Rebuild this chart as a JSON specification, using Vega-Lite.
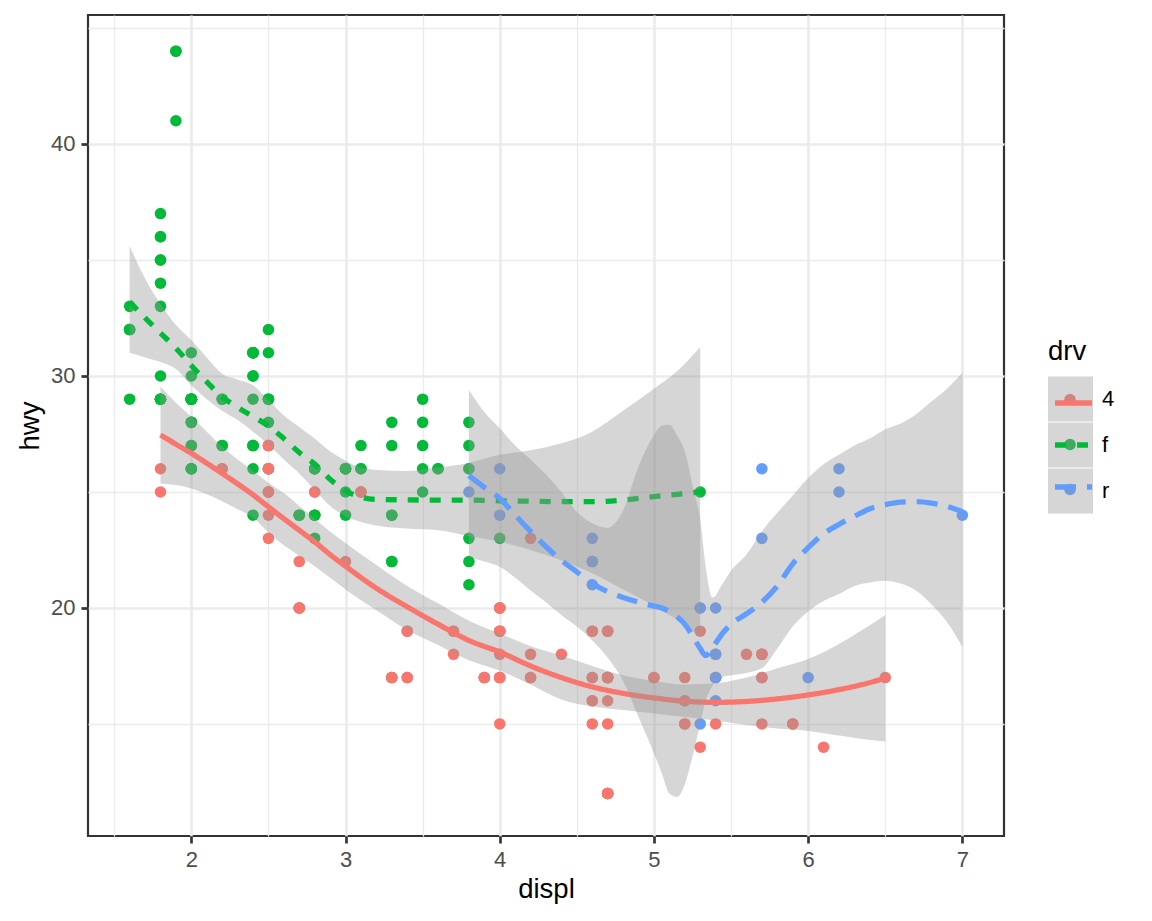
{
  "$schema": "https://vega.github.io/schema/vega-lite/v6.json",
  "width": 916,
  "height": 821,
  "autosize": {"type": "none"},
  "padding": {"left": 88, "top": 15, "right": 148, "bottom": 85},
  "background": "white",
  "config": {
    "font": "Liberation Sans",
    "view": {"stroke": "#333333", "strokeWidth": 2.2}
  },
  "datasets": {
    "mpg": [
      {"displ":1.8,"hwy":29,"drv":"f"},{"displ":1.8,"hwy":29,"drv":"f"},{"displ":2.0,"hwy":31,"drv":"f"},{"displ":2.0,"hwy":30,"drv":"f"},{"displ":2.8,"hwy":26,"drv":"f"},{"displ":2.8,"hwy":26,"drv":"f"},{"displ":3.1,"hwy":27,"drv":"f"},
      {"displ":1.8,"hwy":26,"drv":"4"},{"displ":1.8,"hwy":25,"drv":"4"},{"displ":2.0,"hwy":28,"drv":"4"},{"displ":2.0,"hwy":27,"drv":"4"},{"displ":2.8,"hwy":25,"drv":"4"},{"displ":2.8,"hwy":25,"drv":"4"},{"displ":3.1,"hwy":25,"drv":"4"},{"displ":3.1,"hwy":25,"drv":"4"},{"displ":2.8,"hwy":24,"drv":"4"},{"displ":3.1,"hwy":25,"drv":"4"},{"displ":4.2,"hwy":23,"drv":"4"},
      {"displ":5.3,"hwy":20,"drv":"r"},{"displ":5.3,"hwy":15,"drv":"r"},{"displ":5.3,"hwy":20,"drv":"r"},{"displ":5.7,"hwy":17,"drv":"r"},{"displ":6.0,"hwy":17,"drv":"r"},{"displ":5.7,"hwy":26,"drv":"r"},{"displ":5.7,"hwy":23,"drv":"r"},{"displ":6.2,"hwy":26,"drv":"r"},{"displ":6.2,"hwy":25,"drv":"r"},{"displ":7.0,"hwy":24,"drv":"r"},
      {"displ":5.3,"hwy":19,"drv":"4"},{"displ":5.3,"hwy":14,"drv":"4"},{"displ":5.7,"hwy":15,"drv":"4"},{"displ":6.5,"hwy":17,"drv":"4"},
      {"displ":2.4,"hwy":27,"drv":"f"},{"displ":2.4,"hwy":30,"drv":"f"},{"displ":3.1,"hwy":26,"drv":"f"},{"displ":3.5,"hwy":29,"drv":"f"},{"displ":3.6,"hwy":26,"drv":"f"},
      {"displ":2.4,"hwy":24,"drv":"f"},{"displ":3.0,"hwy":24,"drv":"f"},{"displ":3.3,"hwy":22,"drv":"f"},{"displ":3.3,"hwy":22,"drv":"f"},{"displ":3.3,"hwy":24,"drv":"f"},{"displ":3.3,"hwy":24,"drv":"f"},{"displ":3.3,"hwy":17,"drv":"f"},{"displ":3.8,"hwy":22,"drv":"f"},{"displ":3.8,"hwy":21,"drv":"f"},{"displ":3.8,"hwy":23,"drv":"f"},{"displ":4.0,"hwy":23,"drv":"f"},
      {"displ":3.7,"hwy":19,"drv":"4"},{"displ":3.7,"hwy":18,"drv":"4"},{"displ":3.9,"hwy":17,"drv":"4"},{"displ":3.9,"hwy":17,"drv":"4"},{"displ":4.7,"hwy":19,"drv":"4"},{"displ":4.7,"hwy":19,"drv":"4"},{"displ":4.7,"hwy":12,"drv":"4"},{"displ":5.2,"hwy":17,"drv":"4"},{"displ":5.2,"hwy":15,"drv":"4"},
      {"displ":3.9,"hwy":17,"drv":"4"},{"displ":4.7,"hwy":17,"drv":"4"},{"displ":4.7,"hwy":12,"drv":"4"},{"displ":4.7,"hwy":17,"drv":"4"},{"displ":5.2,"hwy":16,"drv":"4"},{"displ":5.7,"hwy":18,"drv":"4"},{"displ":5.9,"hwy":15,"drv":"4"},
      {"displ":4.7,"hwy":16,"drv":"4"},{"displ":4.7,"hwy":12,"drv":"4"},{"displ":4.7,"hwy":17,"drv":"4"},{"displ":4.7,"hwy":17,"drv":"4"},{"displ":4.7,"hwy":12,"drv":"4"},{"displ":5.2,"hwy":15,"drv":"4"},{"displ":5.2,"hwy":16,"drv":"4"},{"displ":5.7,"hwy":17,"drv":"4"},{"displ":5.9,"hwy":15,"drv":"4"},
      {"displ":4.6,"hwy":17,"drv":"r"},{"displ":5.4,"hwy":17,"drv":"r"},{"displ":5.4,"hwy":18,"drv":"r"},
      {"displ":4.0,"hwy":17,"drv":"4"},{"displ":4.0,"hwy":19,"drv":"4"},{"displ":4.0,"hwy":17,"drv":"4"},{"displ":4.0,"hwy":19,"drv":"4"},{"displ":4.6,"hwy":19,"drv":"4"},{"displ":5.0,"hwy":17,"drv":"4"},
      {"displ":4.2,"hwy":17,"drv":"4"},{"displ":4.2,"hwy":17,"drv":"4"},{"displ":4.6,"hwy":16,"drv":"4"},{"displ":4.6,"hwy":16,"drv":"4"},{"displ":4.6,"hwy":17,"drv":"4"},{"displ":5.4,"hwy":15,"drv":"4"},{"displ":5.4,"hwy":17,"drv":"4"},
      {"displ":3.8,"hwy":26,"drv":"r"},{"displ":3.8,"hwy":25,"drv":"r"},{"displ":4.0,"hwy":26,"drv":"r"},{"displ":4.0,"hwy":24,"drv":"r"},{"displ":4.6,"hwy":21,"drv":"r"},{"displ":4.6,"hwy":22,"drv":"r"},{"displ":4.6,"hwy":23,"drv":"r"},{"displ":4.6,"hwy":22,"drv":"r"},{"displ":5.4,"hwy":20,"drv":"r"},
      {"displ":1.6,"hwy":33,"drv":"f"},{"displ":1.6,"hwy":32,"drv":"f"},{"displ":1.6,"hwy":32,"drv":"f"},{"displ":1.6,"hwy":29,"drv":"f"},{"displ":1.6,"hwy":32,"drv":"f"},{"displ":1.8,"hwy":34,"drv":"f"},{"displ":1.8,"hwy":36,"drv":"f"},{"displ":1.8,"hwy":36,"drv":"f"},{"displ":2.0,"hwy":29,"drv":"f"},
      {"displ":2.4,"hwy":26,"drv":"f"},{"displ":2.4,"hwy":27,"drv":"f"},{"displ":2.4,"hwy":30,"drv":"f"},{"displ":2.4,"hwy":31,"drv":"f"},{"displ":2.5,"hwy":26,"drv":"f"},{"displ":2.5,"hwy":26,"drv":"f"},{"displ":3.3,"hwy":28,"drv":"f"},
      {"displ":2.0,"hwy":26,"drv":"f"},{"displ":2.0,"hwy":29,"drv":"f"},{"displ":2.0,"hwy":28,"drv":"f"},{"displ":2.0,"hwy":27,"drv":"f"},{"displ":2.7,"hwy":24,"drv":"f"},{"displ":2.7,"hwy":24,"drv":"f"},{"displ":2.7,"hwy":24,"drv":"f"},
      {"displ":3.0,"hwy":22,"drv":"4"},{"displ":3.7,"hwy":19,"drv":"4"},{"displ":4.0,"hwy":20,"drv":"4"},{"displ":4.7,"hwy":17,"drv":"4"},{"displ":4.7,"hwy":12,"drv":"4"},{"displ":4.7,"hwy":19,"drv":"4"},{"displ":5.7,"hwy":18,"drv":"4"},{"displ":6.1,"hwy":14,"drv":"4"},
      {"displ":4.0,"hwy":15,"drv":"4"},{"displ":4.2,"hwy":18,"drv":"4"},{"displ":4.4,"hwy":18,"drv":"4"},{"displ":4.6,"hwy":15,"drv":"4"},
      {"displ":5.4,"hwy":17,"drv":"r"},{"displ":5.4,"hwy":16,"drv":"r"},{"displ":5.4,"hwy":18,"drv":"r"},
      {"displ":4.0,"hwy":17,"drv":"4"},{"displ":4.0,"hwy":19,"drv":"4"},{"displ":4.6,"hwy":19,"drv":"4"},{"displ":5.0,"hwy":17,"drv":"4"},
      {"displ":2.4,"hwy":29,"drv":"f"},{"displ":2.4,"hwy":27,"drv":"f"},{"displ":2.5,"hwy":31,"drv":"f"},{"displ":2.5,"hwy":32,"drv":"f"},{"displ":3.5,"hwy":27,"drv":"f"},{"displ":3.5,"hwy":26,"drv":"f"},{"displ":3.0,"hwy":26,"drv":"f"},{"displ":3.0,"hwy":25,"drv":"f"},{"displ":3.5,"hwy":25,"drv":"f"},
      {"displ":3.3,"hwy":17,"drv":"4"},{"displ":3.3,"hwy":17,"drv":"4"},{"displ":4.0,"hwy":20,"drv":"4"},{"displ":5.6,"hwy":18,"drv":"4"},
      {"displ":3.1,"hwy":26,"drv":"f"},{"displ":3.8,"hwy":26,"drv":"f"},{"displ":3.8,"hwy":27,"drv":"f"},{"displ":3.8,"hwy":28,"drv":"f"},{"displ":5.3,"hwy":25,"drv":"f"},
      {"displ":2.5,"hwy":25,"drv":"4"},{"displ":2.5,"hwy":24,"drv":"4"},{"displ":2.5,"hwy":27,"drv":"4"},{"displ":2.5,"hwy":25,"drv":"4"},{"displ":2.5,"hwy":26,"drv":"4"},{"displ":2.5,"hwy":23,"drv":"4"},{"displ":2.2,"hwy":26,"drv":"4"},{"displ":2.2,"hwy":26,"drv":"4"},{"displ":2.5,"hwy":26,"drv":"4"},{"displ":2.5,"hwy":26,"drv":"4"},{"displ":2.5,"hwy":25,"drv":"4"},{"displ":2.5,"hwy":27,"drv":"4"},{"displ":2.5,"hwy":25,"drv":"4"},{"displ":2.5,"hwy":27,"drv":"4"},
      {"displ":2.7,"hwy":20,"drv":"4"},{"displ":2.7,"hwy":20,"drv":"4"},{"displ":3.4,"hwy":19,"drv":"4"},{"displ":3.4,"hwy":17,"drv":"4"},{"displ":4.0,"hwy":20,"drv":"4"},{"displ":4.7,"hwy":17,"drv":"4"},
      {"displ":2.2,"hwy":29,"drv":"f"},{"displ":2.2,"hwy":27,"drv":"f"},{"displ":2.4,"hwy":31,"drv":"f"},{"displ":2.4,"hwy":31,"drv":"f"},{"displ":3.0,"hwy":26,"drv":"f"},{"displ":3.0,"hwy":26,"drv":"f"},{"displ":3.5,"hwy":28,"drv":"f"},
      {"displ":2.2,"hwy":27,"drv":"f"},{"displ":2.2,"hwy":29,"drv":"f"},{"displ":2.4,"hwy":31,"drv":"f"},{"displ":2.4,"hwy":31,"drv":"f"},{"displ":3.0,"hwy":26,"drv":"f"},{"displ":3.0,"hwy":26,"drv":"f"},{"displ":3.3,"hwy":27,"drv":"f"},
      {"displ":1.8,"hwy":30,"drv":"f"},{"displ":1.8,"hwy":33,"drv":"f"},{"displ":1.8,"hwy":35,"drv":"f"},{"displ":1.8,"hwy":37,"drv":"f"},{"displ":1.8,"hwy":35,"drv":"f"},
      {"displ":4.7,"hwy":15,"drv":"4"},{"displ":5.7,"hwy":18,"drv":"4"},
      {"displ":2.7,"hwy":20,"drv":"4"},{"displ":2.7,"hwy":20,"drv":"4"},{"displ":2.7,"hwy":22,"drv":"4"},{"displ":3.4,"hwy":17,"drv":"4"},{"displ":3.4,"hwy":19,"drv":"4"},{"displ":4.0,"hwy":18,"drv":"4"},{"displ":4.0,"hwy":20,"drv":"4"},
      {"displ":2.0,"hwy":29,"drv":"f"},{"displ":2.0,"hwy":26,"drv":"f"},{"displ":2.0,"hwy":29,"drv":"f"},{"displ":2.0,"hwy":29,"drv":"f"},{"displ":2.8,"hwy":24,"drv":"f"},
      {"displ":1.9,"hwy":44,"drv":"f"},{"displ":2.0,"hwy":29,"drv":"f"},{"displ":2.0,"hwy":26,"drv":"f"},{"displ":2.0,"hwy":29,"drv":"f"},{"displ":2.0,"hwy":29,"drv":"f"},{"displ":2.5,"hwy":29,"drv":"f"},{"displ":2.5,"hwy":29,"drv":"f"},{"displ":2.8,"hwy":23,"drv":"f"},{"displ":2.8,"hwy":24,"drv":"f"},
      {"displ":1.9,"hwy":44,"drv":"f"},{"displ":1.9,"hwy":41,"drv":"f"},{"displ":2.0,"hwy":29,"drv":"f"},{"displ":2.0,"hwy":26,"drv":"f"},{"displ":2.5,"hwy":28,"drv":"f"},{"displ":2.5,"hwy":29,"drv":"f"},
      {"displ":1.8,"hwy":29,"drv":"f"},{"displ":1.8,"hwy":29,"drv":"f"},{"displ":2.0,"hwy":28,"drv":"f"},{"displ":2.0,"hwy":29,"drv":"f"},{"displ":2.8,"hwy":26,"drv":"f"},{"displ":2.8,"hwy":26,"drv":"f"},{"displ":3.6,"hwy":26,"drv":"f"}
    ],
    "smooth": [
      {"drv":"4","displ":1.8,"hwy":27.46,"ymin":25.37,"ymax":29.55},
      {"drv":"4","displ":1.9,"hwy":27.06,"ymin":25.3,"ymax":28.85},
      {"drv":"4","displ":2.0,"hwy":26.67,"ymin":25.15,"ymax":28.25},
      {"drv":"4","displ":2.1,"hwy":26.24,"ymin":24.9,"ymax":27.6},
      {"drv":"4","displ":2.2,"hwy":25.8,"ymin":24.6,"ymax":26.95},
      {"drv":"4","displ":2.3,"hwy":25.35,"ymin":24.25,"ymax":26.4},
      {"drv":"4","displ":2.4,"hwy":24.88,"ymin":23.9,"ymax":25.9},
      {"drv":"4","displ":2.5,"hwy":24.36,"ymin":23.25,"ymax":25.4},
      {"drv":"4","displ":2.6,"hwy":23.85,"ymin":22.7,"ymax":24.95},
      {"drv":"4","displ":2.7,"hwy":23.35,"ymin":22.25,"ymax":24.4},
      {"drv":"4","displ":2.8,"hwy":22.85,"ymin":21.8,"ymax":23.85},
      {"drv":"4","displ":2.9,"hwy":22.3,"ymin":21.3,"ymax":23.3},
      {"drv":"4","displ":3.0,"hwy":21.8,"ymin":20.8,"ymax":22.8},
      {"drv":"4","displ":3.2,"hwy":20.85,"ymin":19.9,"ymax":21.85},
      {"drv":"4","displ":3.4,"hwy":20.05,"ymin":19.05,"ymax":20.95},
      {"drv":"4","displ":3.6,"hwy":19.3,"ymin":18.4,"ymax":20.2},
      {"drv":"4","displ":3.8,"hwy":18.6,"ymin":17.75,"ymax":19.45},
      {"drv":"4","displ":4.0,"hwy":18.1,"ymin":17.3,"ymax":18.9},
      {"drv":"4","displ":4.2,"hwy":17.5,"ymin":16.7,"ymax":18.35},
      {"drv":"4","displ":4.4,"hwy":17.0,"ymin":16.05,"ymax":17.95},
      {"drv":"4","displ":4.6,"hwy":16.6,"ymin":15.75,"ymax":17.5},
      {"drv":"4","displ":4.8,"hwy":16.32,"ymin":15.6,"ymax":17.1},
      {"drv":"4","displ":5.0,"hwy":16.12,"ymin":15.45,"ymax":16.85},
      {"drv":"4","displ":5.2,"hwy":15.98,"ymin":15.3,"ymax":16.7},
      {"drv":"4","displ":5.4,"hwy":15.93,"ymin":15.15,"ymax":16.75},
      {"drv":"4","displ":5.6,"hwy":15.97,"ymin":14.95,"ymax":17.0},
      {"drv":"4","displ":5.8,"hwy":16.08,"ymin":14.8,"ymax":17.4},
      {"drv":"4","displ":6.0,"hwy":16.25,"ymin":14.7,"ymax":17.8},
      {"drv":"4","displ":6.2,"hwy":16.48,"ymin":14.5,"ymax":18.45},
      {"drv":"4","displ":6.35,"hwy":16.7,"ymin":14.35,"ymax":19.05},
      {"drv":"4","displ":6.5,"hwy":16.97,"ymin":14.24,"ymax":19.7},
      {"drv":"f","displ":1.6,"hwy":33.2,"ymin":31.0,"ymax":35.6},
      {"drv":"f","displ":1.7,"hwy":32.5,"ymin":30.8,"ymax":34.2},
      {"drv":"f","displ":1.8,"hwy":31.85,"ymin":30.6,"ymax":33.1},
      {"drv":"f","displ":1.9,"hwy":31.2,"ymin":30.3,"ymax":32.2},
      {"drv":"f","displ":2.0,"hwy":30.45,"ymin":29.6,"ymax":31.55},
      {"drv":"f","displ":2.1,"hwy":29.75,"ymin":29.0,"ymax":30.8},
      {"drv":"f","displ":2.2,"hwy":29.1,"ymin":28.5,"ymax":30.1},
      {"drv":"f","displ":2.3,"hwy":28.65,"ymin":28.1,"ymax":29.85},
      {"drv":"f","displ":2.4,"hwy":28.25,"ymin":27.6,"ymax":29.6},
      {"drv":"f","displ":2.5,"hwy":27.85,"ymin":27.05,"ymax":28.95},
      {"drv":"f","displ":2.6,"hwy":27.3,"ymin":26.4,"ymax":28.3},
      {"drv":"f","displ":2.7,"hwy":26.7,"ymin":25.8,"ymax":27.8},
      {"drv":"f","displ":2.8,"hwy":26.2,"ymin":25.1,"ymax":27.3},
      {"drv":"f","displ":2.9,"hwy":25.55,"ymin":24.4,"ymax":26.75},
      {"drv":"f","displ":3.0,"hwy":25.05,"ymin":23.95,"ymax":26.35},
      {"drv":"f","displ":3.1,"hwy":24.78,"ymin":23.7,"ymax":26.05},
      {"drv":"f","displ":3.2,"hwy":24.68,"ymin":23.55,"ymax":25.95},
      {"drv":"f","displ":3.4,"hwy":24.66,"ymin":23.42,"ymax":25.9},
      {"drv":"f","displ":3.6,"hwy":24.65,"ymin":23.35,"ymax":26.05},
      {"drv":"f","displ":3.8,"hwy":24.65,"ymin":23.1,"ymax":26.25},
      {"drv":"f","displ":4.0,"hwy":24.62,"ymin":22.85,"ymax":26.6},
      {"drv":"f","displ":4.2,"hwy":24.6,"ymin":22.5,"ymax":26.8},
      {"drv":"f","displ":4.4,"hwy":24.58,"ymin":22.05,"ymax":27.1},
      {"drv":"f","displ":4.6,"hwy":24.58,"ymin":21.5,"ymax":27.6},
      {"drv":"f","displ":4.8,"hwy":24.65,"ymin":20.8,"ymax":28.5},
      {"drv":"f","displ":5.0,"hwy":24.8,"ymin":20.1,"ymax":29.45},
      {"drv":"f","displ":5.15,"hwy":24.9,"ymin":19.5,"ymax":30.2},
      {"drv":"f","displ":5.3,"hwy":25.0,"ymin":18.75,"ymax":31.25},
      {"drv":"r","displ":3.8,"hwy":25.7,"ymin":22.2,"ymax":29.4},
      {"drv":"r","displ":3.9,"hwy":25.2,"ymin":22.0,"ymax":28.45},
      {"drv":"r","displ":4.0,"hwy":24.73,"ymin":21.78,"ymax":27.75},
      {"drv":"r","displ":4.1,"hwy":24.0,"ymin":21.3,"ymax":27.0},
      {"drv":"r","displ":4.2,"hwy":23.3,"ymin":20.75,"ymax":26.4},
      {"drv":"r","displ":4.3,"hwy":22.64,"ymin":20.25,"ymax":25.75},
      {"drv":"r","displ":4.4,"hwy":22.05,"ymin":19.7,"ymax":25.0},
      {"drv":"r","displ":4.5,"hwy":21.55,"ymin":19.2,"ymax":24.15},
      {"drv":"r","displ":4.6,"hwy":21.05,"ymin":18.6,"ymax":23.65},
      {"drv":"r","displ":4.7,"hwy":20.7,"ymin":17.85,"ymax":23.45},
      {"drv":"r","displ":4.8,"hwy":20.45,"ymin":16.85,"ymax":24.2},
      {"drv":"r","displ":4.9,"hwy":20.25,"ymin":15.3,"ymax":26.1},
      {"drv":"r","displ":5.0,"hwy":20.08,"ymin":13.74,"ymax":27.45},
      {"drv":"r","displ":5.05,"hwy":20.0,"ymin":12.9,"ymax":27.85},
      {"drv":"r","displ":5.1,"hwy":19.85,"ymin":12.0,"ymax":27.9},
      {"drv":"r","displ":5.15,"hwy":19.62,"ymin":11.85,"ymax":27.45},
      {"drv":"r","displ":5.2,"hwy":19.3,"ymin":12.4,"ymax":26.75},
      {"drv":"r","displ":5.25,"hwy":18.8,"ymin":13.6,"ymax":25.3},
      {"drv":"r","displ":5.3,"hwy":18.25,"ymin":15.0,"ymax":23.8},
      {"drv":"r","displ":5.335,"hwy":17.95,"ymin":16.0,"ymax":21.8},
      {"drv":"r","displ":5.38,"hwy":18.3,"ymin":16.65,"ymax":20.45},
      {"drv":"r","displ":5.45,"hwy":18.95,"ymin":17.04,"ymax":21.1},
      {"drv":"r","displ":5.5,"hwy":19.3,"ymin":17.1,"ymax":21.6},
      {"drv":"r","displ":5.6,"hwy":19.75,"ymin":17.2,"ymax":22.3},
      {"drv":"r","displ":5.7,"hwy":20.25,"ymin":17.4,"ymax":23.3},
      {"drv":"r","displ":5.8,"hwy":20.95,"ymin":18.25,"ymax":24.1},
      {"drv":"r","displ":5.9,"hwy":21.9,"ymin":19.2,"ymax":24.85},
      {"drv":"r","displ":6.0,"hwy":22.6,"ymin":19.85,"ymax":25.6},
      {"drv":"r","displ":6.1,"hwy":23.2,"ymin":20.3,"ymax":26.2},
      {"drv":"r","displ":6.2,"hwy":23.6,"ymin":20.6,"ymax":26.6},
      {"drv":"r","displ":6.3,"hwy":23.95,"ymin":20.95,"ymax":27.0},
      {"drv":"r","displ":6.4,"hwy":24.28,"ymin":21.1,"ymax":27.3},
      {"drv":"r","displ":6.5,"hwy":24.45,"ymin":21.17,"ymax":27.7},
      {"drv":"r","displ":6.6,"hwy":24.56,"ymin":21.05,"ymax":27.95},
      {"drv":"r","displ":6.7,"hwy":24.58,"ymin":20.75,"ymax":28.35},
      {"drv":"r","displ":6.8,"hwy":24.52,"ymin":20.15,"ymax":28.9},
      {"drv":"r","displ":6.9,"hwy":24.38,"ymin":19.4,"ymax":29.45},
      {"drv":"r","displ":7.0,"hwy":24.15,"ymin":18.33,"ymax":30.14}
    ]
  },
  "layer": [
    {
      "data": {"name": "mpg"},
      "mark": {"type": "point", "filled": true, "size": 133, "opacity": 1, "strokeWidth": 0},
      "encoding": {
        "x": {
          "field": "displ", "type": "quantitative",
          "scale": {"domain": [1.33, 7.27], "nice": false, "zero": false},
          "axis": {
            "title": "displ",
            "values": [1.5, 2, 2.5, 3, 3.5, 4, 4.5, 5, 5.5, 6, 6.5, 7],
            "labelExpr": "datum.value % 1 == 0 ? '' + datum.value : ''",
            "domain": false,
            "grid": true, "gridColor": "#EBEBEB",
            "gridWidth": {"condition": {"test": "datum.value % 1 != 0", "value": 1.33}, "value": 2.67},
            "tickColor": "#333333", "tickWidth": 2.67, "tickSize": 7,
            "tickOpacity": {"condition": {"test": "datum.value % 1 != 0", "value": 0}, "value": 1},
            "labelFontSize": 22, "labelColor": "#4D4D4D", "labelPadding": 6,
            "labelOverlap": false, "labelFlush": false,
            "titleFontSize": 27.5, "titleFontWeight": "normal", "titleColor": "#000000", "titlePadding": 5
          }
        },
        "y": {
          "field": "hwy", "type": "quantitative",
          "scale": {"domain": [10.17, 45.56], "nice": false, "zero": false},
          "axis": {
            "title": "hwy",
            "values": [15, 20, 25, 30, 35, 40, 45],
            "labelExpr": "datum.value % 10 == 0 ? '' + datum.value : ''",
            "domain": false,
            "grid": true, "gridColor": "#EBEBEB",
            "gridWidth": {"condition": {"test": "datum.value % 10 != 0", "value": 1.33}, "value": 2.67},
            "tickColor": "#333333", "tickWidth": 2.67, "tickSize": 7,
            "tickOpacity": {"condition": {"test": "datum.value % 10 != 0", "value": 0}, "value": 1},
            "labelFontSize": 22, "labelColor": "#4D4D4D", "labelPadding": 6,
            "labelOverlap": false, "labelFlush": false,
            "titleFontSize": 27.5, "titleFontWeight": "normal", "titleColor": "#000000", "titlePadding": 6
          }
        },
        "fill": {
          "field": "drv", "type": "nominal",
          "scale": {"range": ["#F8766D", "#00BA38", "#619CFF"]},
          "legend": {"title": null, "orient": "none", "legendX": 976, "legendY": 378.5, "padding": 0, "symbolType": "circle", "symbolSize": 133, "symbolStrokeWidth": 0, "rowPadding": 33, "labelExpr": "''", "labelFontSize": 10}
        }
      }
    },
    {
      "data": {"name": "smooth"},
      "transform": [{"filter": "datum.drv == '4'"}],
      "mark": {"type": "area", "color": "#999999", "interpolate": "monotone"},
      "encoding": {
        "x": {"field": "displ", "type": "quantitative"},
        "y": {"field": "ymin", "type": "quantitative"},
        "y2": {"field": "ymax"},
        "opacity": {"field": "drv", "type": "ordinal", "scale": {"domain": ["4", "f", "r"], "range": [0.4, 0.4]},
          "legend": {"title": "drv", "orient": "none", "legendX": 960, "legendY": 323, "padding": 0, "titleFontSize": 27.5, "titleFontWeight": "normal", "titleColor": "#000000", "titlePadding": 11, "symbolType": "square", "symbolSize": 2025, "symbolFillColor": "#999999", "symbolStrokeWidth": 0, "rowPadding": 1, "labelFontSize": 22, "labelColor": "#000000", "labelOffset": 9}}
      }
    },
    {
      "data": {"name": "smooth"},
      "transform": [{"filter": "datum.drv == '4'"}],
      "mark": {"type": "line", "interpolate": "monotone", "strokeWidth": 5.3, "strokeCap": "butt"},
      "encoding": {
        "x": {"field": "displ", "type": "quantitative"},
        "y": {"field": "hwy", "type": "quantitative"},
        "stroke": {"field": "drv", "type": "nominal", "scale": {"range": ["#F8766D", "#00BA38", "#619CFF"]},
          "legend": {"title": null, "orient": "none", "legendX": 964, "legendY": 366.5, "padding": 0, "symbolType": "stroke", "symbolSize": 1369, "symbolStrokeWidth": 5.3, "rowPadding": 9, "labelExpr": "''", "labelFontSize": 10}},
        "strokeDash": {"field": "drv", "type": "nominal", "scale": {"range": [[1, 0], [11, 11], [21, 11]]},
          "legend": {"title": null, "orient": "none", "legendX": 964, "legendY": 366.5, "padding": 0, "symbolType": "stroke", "symbolSize": 1369, "symbolStrokeWidth": 5.3, "rowPadding": 9, "labelExpr": "''", "labelFontSize": 10}}
      }
    },
    {
      "data": {"name": "smooth"},
      "transform": [{"filter": "datum.drv == 'f'"}],
      "mark": {"type": "area", "color": "#999999", "interpolate": "monotone"},
      "encoding": {
        "x": {"field": "displ", "type": "quantitative"},
        "y": {"field": "ymin", "type": "quantitative"},
        "y2": {"field": "ymax"},
        "opacity": {"field": "drv", "type": "ordinal"}
      }
    },
    {
      "data": {"name": "smooth"},
      "transform": [{"filter": "datum.drv == 'f'"}],
      "mark": {"type": "line", "interpolate": "monotone", "strokeWidth": 5.3, "strokeCap": "butt"},
      "encoding": {
        "x": {"field": "displ", "type": "quantitative"},
        "y": {"field": "hwy", "type": "quantitative"},
        "stroke": {"field": "drv", "type": "nominal"},
        "strokeDash": {"field": "drv", "type": "nominal"}
      }
    },
    {
      "data": {"name": "smooth"},
      "transform": [{"filter": "datum.drv == 'r'"}],
      "mark": {"type": "area", "color": "#999999", "interpolate": "monotone"},
      "encoding": {
        "x": {"field": "displ", "type": "quantitative"},
        "y": {"field": "ymin", "type": "quantitative"},
        "y2": {"field": "ymax"},
        "opacity": {"field": "drv", "type": "ordinal"}
      }
    },
    {
      "data": {"name": "smooth"},
      "transform": [{"filter": "datum.drv == 'r'"}],
      "mark": {"type": "line", "interpolate": "monotone", "strokeWidth": 5.3, "strokeCap": "butt"},
      "encoding": {
        "x": {"field": "displ", "type": "quantitative"},
        "y": {"field": "hwy", "type": "quantitative"},
        "stroke": {"field": "drv", "type": "nominal"},
        "strokeDash": {"field": "drv", "type": "nominal"}
      }
    }
  ]
}
